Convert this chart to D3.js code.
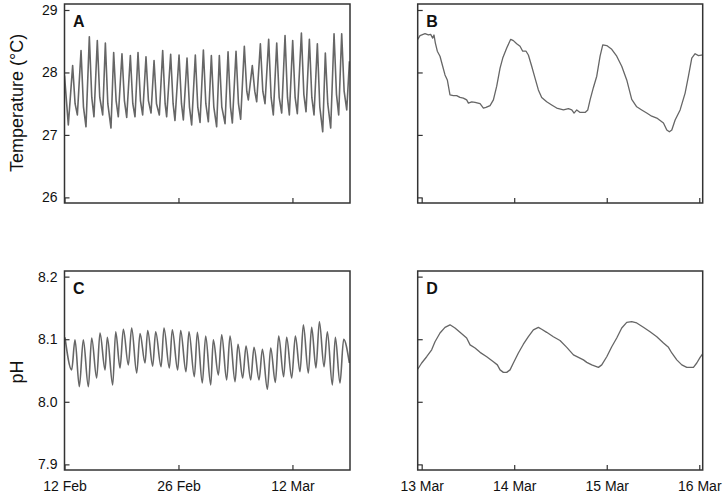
<!DOCTYPE html>
<html>
<head>
<meta charset="utf-8">
<script src="https://cdn.jsdelivr.net/npm/d3@7"></script>
<style>
  body { margin: 0; background: #fff; }
  text { font-family: Arial, "Liberation Sans", sans-serif; }
</style>
</head>
<body>
<div id="chart"></div>
<script>
// --- data ---
// panel A / C: [days since 12 Feb, value]
const tempLong = [
  [0,27.95],[0.47,27.16],[1.0,28.11],[1.3,27.5],[1.58,27.32],[2.03,28.35],[2.33,27.45],[2.64,27.13],
  [3.05,28.57],[3.35,27.6],[3.62,27.29],[4.03,28.51],[4.33,27.6],[4.69,27.32],[5.02,28.47],[5.32,27.5],
  [5.71,27.11],[6.04,28.32],[6.34,27.55],[6.61,27.29],[7.06,28.3],[7.36,27.55],[7.64,27.28],[8.09,28.27],
  [8.39,27.5],[8.66,27.29],[9.03,28.32],[9.33,27.55],[9.6,27.32],[10.01,28.25],[10.31,27.55],[10.63,27.35],
  [11.0,28.19],[11.3,27.5],[11.65,27.32],[12.06,28.35],[12.36,27.5],[12.55,27.29],[13.04,28.29],[13.34,27.5],
  [13.57,27.23],[14.07,28.28],[14.37,27.5],[14.6,27.24],[15.05,28.23],[15.35,27.45],[15.62,27.16],[16.07,28.28],
  [16.37,27.45],[16.65,27.2],[17.06,28.36],[17.36,27.5],[17.67,27.21],[18.04,28.27],[18.34,27.45],[18.69,27.13],
  [19.02,28.27],[19.32,27.45],[19.72,27.18],[20.09,28.33],[20.39,27.45],[20.62,27.19],[21.07,28.34],[21.37,27.5],
  [21.64,27.25],[22.09,28.42],[22.39,27.7],[22.58,27.56],[23.07,28.11],[23.37,27.7],[23.61,27.53],[24.06,28.46],
  [24.36,27.7],[24.63,27.5],[25.08,28.53],[25.38,27.6],[25.65,27.32],[26.07,28.47],[26.37,27.6],[26.68,27.35],
  [27.09,28.59],[27.39,27.6],[27.62,27.32],[28.03,28.51],[28.33,27.6],[28.6,27.34],[29.1,28.63],[29.4,27.65],
  [29.67,27.37],[30.08,28.53],[30.38,27.6],[30.65,27.32],[31.06,28.46],[31.36,27.45],[31.72,27.05],[32.04,28.31],
  [32.34,27.5],[32.7,27.11],[33.11,28.62],[33.41,27.65],[33.68,27.32],[34.05,28.62],[34.35,27.7],[34.67,27.4],
  [35.0,28.18]
];
const phLong = [
  [0.06,8.103],[0.88,8.051],[1.29,8.099],[1.82,8.024],[2.31,8.099],[2.93,8.024],[3.34,8.102],[3.95,8.038],
  [4.36,8.11],[4.98,8.051],[5.26,8.103],[5.92,8.027],[6.29,8.112],[6.82,8.054],[7.23,8.116],[7.84,8.059],
  [8.25,8.118],[8.87,8.046],[9.28,8.109],[9.89,8.062],[10.22,8.114],[10.83,8.057],[11.2,8.112],[11.86,8.056],
  [12.22,8.118],[12.88,8.054],[13.24,8.115],[13.9,8.051],[14.27,8.114],[14.92,8.048],[15.29,8.112],[15.95,8.04],
  [16.32,8.111],[16.93,8.03],[17.34,8.105],[17.96,8.027],[18.28,8.099],[18.9,8.043],[19.31,8.107],[19.92,8.035],
  [20.33,8.105],[20.95,8.032],[21.31,8.092],[21.89,8.038],[22.3,8.089],[22.87,8.035],[23.28,8.087],[23.9,8.035],
  [24.31,8.084],[24.92,8.02],[25.33,8.086],[25.9,8.031],[26.31,8.105],[26.92,8.04],[27.29,8.103],[27.91,8.038],
  [28.36,8.105],[28.93,8.048],[29.34,8.123],[29.95,8.046],[30.36,8.119],[30.89,8.054],[31.31,8.128],[31.88,8.056],
  [32.29,8.112],[32.9,8.027],[33.27,8.103],[33.84,8.03],[34.29,8.1],[34.99,8.062]
];
// panel B / D: [days since 13 Mar, value]
const tempShort = [
  [-0.043,28.53],[-0.018,28.59],[0.036,28.62],[0.072,28.6],[0.097,28.61],[0.119,28.55],[0.133,28.6],[0.148,28.47],
  [0.169,28.34],[0.198,28.26],[0.227,28.1],[0.252,27.96],[0.277,27.88],[0.306,27.64],[0.342,27.63],[0.378,27.63],
  [0.414,27.6],[0.45,27.59],[0.486,27.56],[0.505,27.51],[0.541,27.53],[0.577,27.52],[0.631,27.5],[0.667,27.43],
  [0.695,27.44],[0.739,27.47],[0.775,27.56],[0.811,27.78],[0.847,28.07],[0.876,28.23],[0.919,28.39],[0.962,28.53],
  [0.991,28.51],[1.027,28.46],[1.063,28.42],[1.092,28.34],[1.128,28.34],[1.153,28.28],[1.189,28.1],[1.225,27.91],
  [1.261,27.72],[1.297,27.6],[1.351,27.53],[1.405,27.48],[1.459,27.43],[1.532,27.4],[1.586,27.42],[1.622,27.4],
  [1.647,27.35],[1.676,27.4],[1.712,27.36],[1.766,27.36],[1.795,27.4],[1.82,27.56],[1.856,27.76],[1.892,27.94],
  [1.928,28.26],[1.957,28.44],[2.0,28.43],[2.054,28.37],[2.108,28.26],[2.162,28.1],[2.216,27.88],[2.27,27.57],
  [2.324,27.45],[2.378,27.4],[2.432,27.35],[2.486,27.3],[2.541,27.27],[2.577,27.23],[2.613,27.19],[2.649,27.08],
  [2.677,27.05],[2.703,27.08],[2.739,27.24],[2.793,27.4],[2.847,27.67],[2.883,27.94],[2.919,28.23],[2.955,28.3],
  [2.991,28.27],[3.038,28.28]
];
const phShort = [
  [-0.043,8.052],[0.0,8.062],[0.054,8.072],[0.108,8.083],[0.144,8.096],[0.198,8.11],[0.252,8.119],[0.306,8.123],
  [0.36,8.118],[0.414,8.111],[0.486,8.102],[0.523,8.091],[0.577,8.086],[0.631,8.079],[0.703,8.072],[0.775,8.064],
  [0.818,8.059],[0.847,8.051],[0.883,8.047],[0.919,8.047],[0.955,8.051],[0.991,8.062],[1.045,8.078],[1.099,8.092],
  [1.153,8.104],[1.207,8.115],[1.261,8.119],[1.297,8.116],[1.351,8.111],[1.423,8.104],[1.495,8.098],[1.568,8.087],
  [1.64,8.075],[1.694,8.071],[1.748,8.067],[1.784,8.063],[1.838,8.059],[1.91,8.055],[1.946,8.059],[2.0,8.072],
  [2.054,8.088],[2.108,8.102],[2.162,8.118],[2.216,8.127],[2.27,8.128],[2.324,8.126],[2.396,8.119],[2.468,8.112],
  [2.541,8.104],[2.613,8.094],[2.667,8.087],[2.703,8.078],[2.757,8.067],[2.811,8.059],[2.865,8.055],[2.901,8.055],
  [2.937,8.055],[2.973,8.062],[3.009,8.071],[3.038,8.077]
];
const tempTicks = [26, 27, 28, 29];
const phTicks = [7.9, 8.0, 8.1, 8.2];

const startLong = new Date(2013, 1, 12);
const startShort = new Date(2013, 2, 13);
const longTicks = [new Date(2013, 1, 12), new Date(2013, 1, 26), new Date(2013, 2, 12)];
const shortTicks = [new Date(2013, 2, 13), new Date(2013, 2, 14), new Date(2013, 2, 15), new Date(2013, 2, 16)];

const dayOf = (base, d) => new Date(base.getTime() + d * 864e5);
const fmt = d3.timeFormat("%-d %b");

const svg = d3.select("#chart").append("svg")
  .attr("width", 726)
  .attr("height", 495);

// panel boxes
const colL = [64.5, 350], colR = [417.7, 702.7];
const rowT = [4, 203], rowB = [271, 470];

function panel(opt) {
  const x = d3.scaleTime().domain(opt.xDomain).range(opt.col);
  const y = d3.scaleLinear().domain(opt.yDomain).range([opt.row[1], opt.row[0]]);
  const id = "clip" + opt.letter;

  svg.append("clipPath").attr("id", id)
    .append("rect")
      .attr("x", opt.col[0]).attr("y", opt.row[0])
      .attr("width", opt.col[1] - opt.col[0]).attr("height", opt.row[1] - opt.row[0]);

  const line = d3.line()
    .x(d => x(dayOf(opt.base, d[0])))
    .y(d => y(d[1]))
    .curve(opt.curve || d3.curveLinear);

  svg.append("path")
    .datum(opt.data)
    .attr("clip-path", "url(#" + id + ")")
    .attr("fill", "none")
    .attr("stroke", "#666")
    .attr("stroke-width", opt.sw)
    .attr("stroke-linejoin", "round")
    .attr("d", line);

  // y axis, ticks pointing in
  const ya = svg.append("g")
    .attr("transform", "translate(" + opt.col[0] + ",0)")
    .call(d3.axisLeft(y).tickValues(opt.yTicks).tickSizeInner(-5).tickSizeOuter(0).tickPadding(7)
      .tickFormat(opt.yLabels ? opt.yFmt : ""));
  ya.select(".domain").remove();

  const xa = svg.append("g")
    .attr("transform", "translate(0," + opt.row[1] + ")")
    .call(d3.axisBottom(x).tickValues(opt.xTicks).tickSizeInner(-5).tickSizeOuter(0).tickPadding(11.5)
      .tickFormat(opt.xLabels ? fmt : ""));
  xa.select(".domain").remove();

  svg.selectAll(".tick line").attr("stroke", "#333").attr("stroke-width", 1.2);
  svg.selectAll(".tick text").attr("fill", "#111").style("font-size", "14px")
    .style("font-family", "Arial, 'Liberation Sans', sans-serif");

  svg.append("rect")
    .attr("x", opt.col[0]).attr("y", opt.row[0])
    .attr("width", opt.col[1] - opt.col[0]).attr("height", opt.row[1] - opt.row[0])
    .attr("fill", "none")
    .attr("stroke", "#333")
    .attr("stroke-width", 1.5);

  svg.append("text")
    .attr("x", opt.col[0] + 8.5)
    .attr("y", opt.row[0] + 22.5)
    .style("font-size", "16px")
    .style("font-weight", "bold")
    .attr("fill", "#111")
    .text(opt.letter);
}

const longDomain = [startLong, dayOf(startLong, 35.07)];
const shortDomain = [dayOf(startShort, -0.043), dayOf(startShort, 3.037)];
const tDomain = [25.91, 29.096];
const pDomain = [7.891, 8.209];

panel({ letter: "A", col: colL, row: rowT, base: startLong, data: tempLong, xDomain: longDomain, yDomain: tDomain,
  xTicks: longTicks, yTicks: tempTicks, xLabels: false, yLabels: true, yFmt: d3.format("d"), sw: 1.6 });
panel({ letter: "B", col: colR, row: rowT, base: startShort, data: tempShort, xDomain: shortDomain, yDomain: tDomain,
  xTicks: shortTicks, yTicks: tempTicks, xLabels: false, yLabels: false, sw: 1.3 });
panel({ letter: "C", col: colL, row: rowB, base: startLong, data: phLong, xDomain: longDomain, yDomain: pDomain,
  xTicks: longTicks, yTicks: phTicks, xLabels: true, yLabels: true, yFmt: d3.format(".1f"), sw: 1.6, curve: d3.curveMonotoneX });
panel({ letter: "D", col: colR, row: rowB, base: startShort, data: phShort, xDomain: shortDomain, yDomain: pDomain,
  xTicks: shortTicks, yTicks: phTicks, xLabels: true, yLabels: false, sw: 1.3 });

// axis titles
svg.append("text")
  .attr("transform", "translate(22.5,103) rotate(-90)")
  .attr("text-anchor", "middle")
  .style("font-size", "18px")
  .attr("fill", "#111")
  .text("Temperature (°C)");

svg.append("text")
  .attr("transform", "translate(22.5,372) rotate(-90)")
  .attr("text-anchor", "middle")
  .style("font-size", "18px")
  .attr("fill", "#111")
  .text("pH");
</script>
</body>
</html>
